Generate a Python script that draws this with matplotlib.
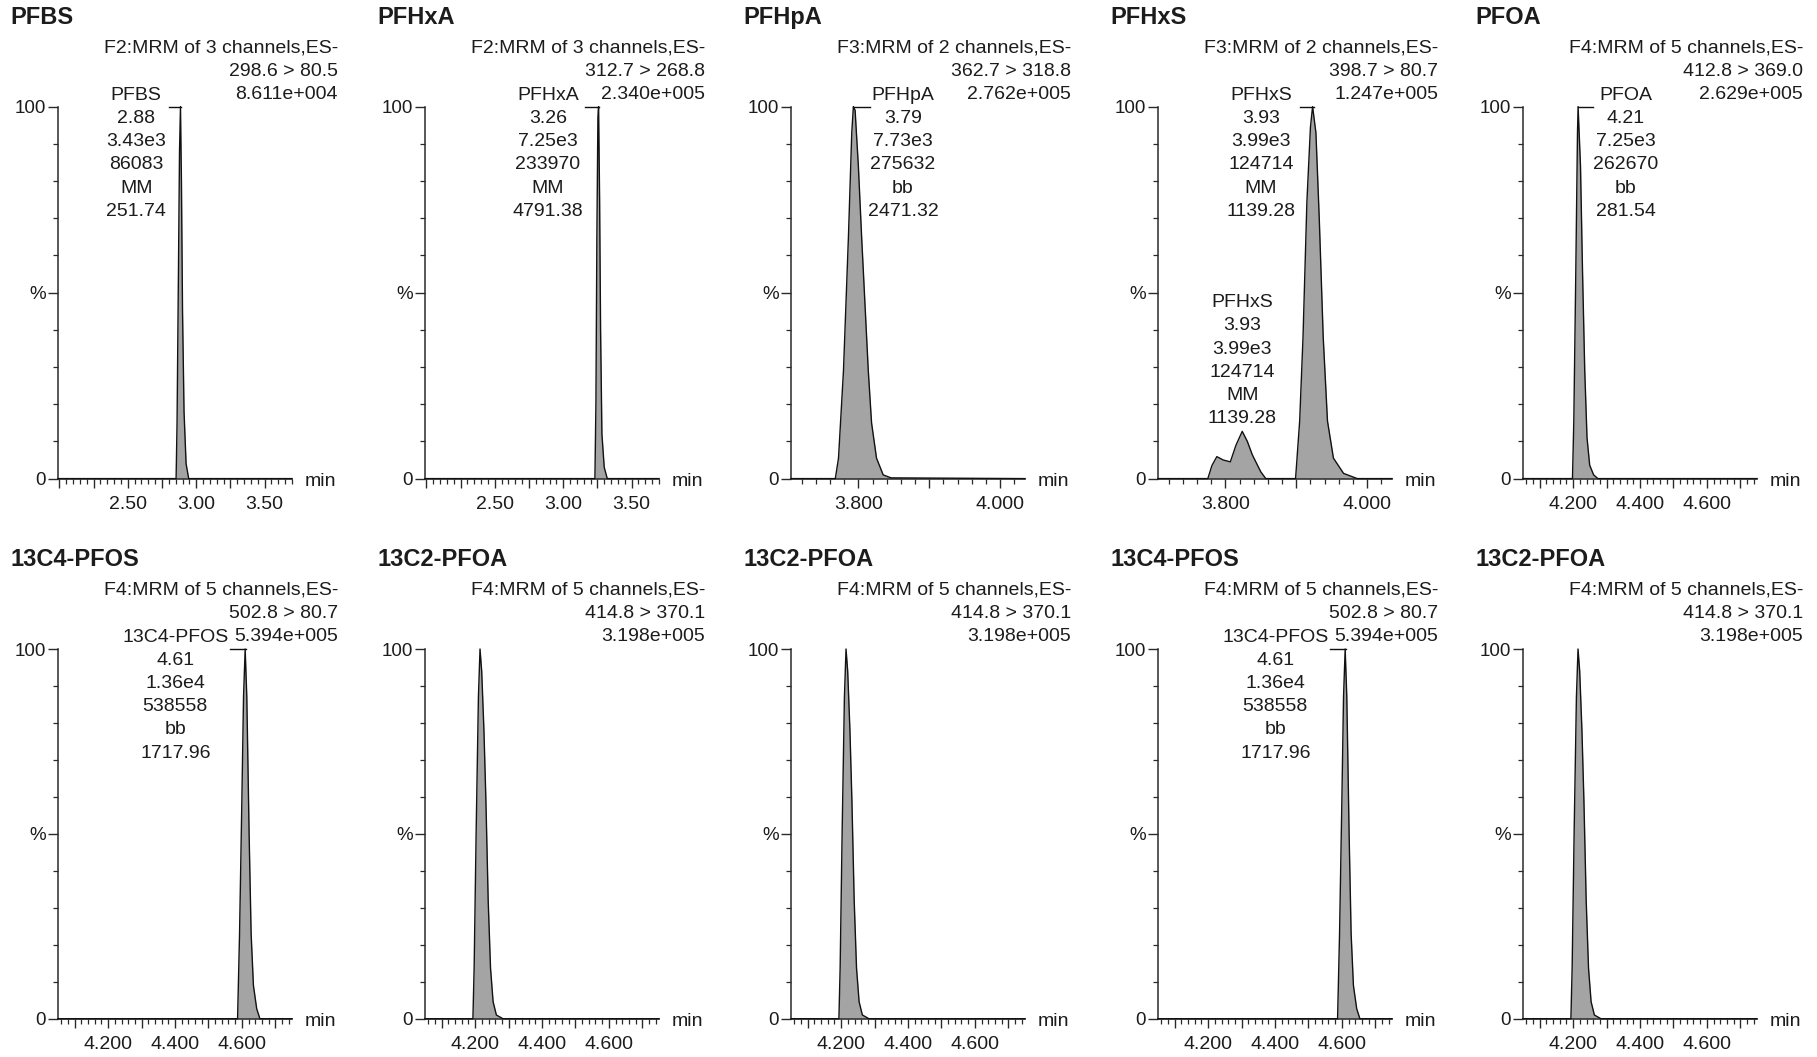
import numpy as np
import matplotlib
matplotlib.use("Agg")
import matplotlib.pyplot as plt
from matplotlib.ticker import MultipleLocator, FixedLocator, FuncFormatter

plt.rcParams['font.family'] = ['Liberation Sans', 'DejaVu Sans']

# ---------------- data (retention time in min, intensity in % of max) ----------------
pfbs_rt = [1.99, 2.853, 2.860, 2.870, 2.878, 2.885, 2.892, 2.900, 2.911, 2.926, 2.945, 3.70]
pfbs_int = [0, 0, 15, 55, 88, 100, 80, 45, 18, 4, 0, 0]

pfhxa_rt = [1.99, 3.2316, 3.239, 3.246, 3.2535, 3.2584, 3.266, 3.2731, 3.2828, 3.2998, 3.322, 3.70]
pfhxa_int = [0, 0, 20, 65, 97, 100, 75, 40, 12, 3, 0, 0]

pfhpa_rt = [3.705, 3.7675, 3.772, 3.779, 3.786, 3.7907, 3.793, 3.7954, 3.800, 3.8046,
            3.8093, 3.814, 3.8186, 3.8256, 3.835, 3.846, 4.035]
pfhpa_int = [0, 0, 5.5, 29, 65, 93, 100, 99, 84, 65, 47, 29, 15, 5.5, 1, 0.2, 0]

pfhxs_rt = [3.705, 3.7753, 3.781, 3.788, 3.797, 3.807, 3.815, 3.8238, 3.831, 3.838, 3.850,
            3.857, 3.899, 3.9048, 3.9095, 3.915, 3.920, 3.923, 3.9277, 3.9324, 3.938,
            3.944, 3.9524, 3.9667, 3.986, 4.035]
pfhxs_int = [0, 0, 3.5, 5.9, 5.0, 4.5, 9, 12.7, 10, 6.4, 1.8, 0, 0, 15.5, 38, 74.5,
             94.5, 100, 93, 70, 38, 15.5, 5.5, 1.4, 0, 0]

pfoa_rt = [4.05, 4.198, 4.202, 4.208, 4.213, 4.2148, 4.222, 4.228, 4.2347, 4.2415,
           4.2495, 4.2613, 4.274, 4.75]
pfoa_int = [0, 0, 15.5, 56, 93, 100, 84, 56, 29, 11, 3.6, 1, 0, 0]

c13_pfos_rt = [4.05, 4.5872, 4.5931, 4.600, 4.605, 4.6099, 4.6148, 4.6217, 4.6277,
               4.6346, 4.6444, 4.654, 4.75]
c13_pfos_int = [0, 0, 23, 59, 87, 100, 87, 50, 23, 9, 2.7, 0, 0]

c13_pfoa_rt = [4.05, 4.1933, 4.197, 4.2029, 4.2098, 4.2146, 4.2196, 4.2263, 4.2322,
               4.239, 4.246, 4.2537, 4.2635, 4.283, 4.75]
c13_pfoa_int = [0, 0, 13.7, 50, 87, 100, 94, 78, 59, 32, 13.7, 4.6, 1, 0, 0]

# titles and header texts
titles = ['PFBS', 'PFHxA', 'PFHpA', 'PFHxS', 'PFOA',
          '13C4-PFOS', '13C2-PFOA', '13C2-PFOA', '13C4-PFOS', '13C2-PFOA']
functions = ['F2:MRM of 3 channels,ES-', 'F2:MRM of 3 channels,ES-',
             'F3:MRM of 2 channels,ES-', 'F3:MRM of 2 channels,ES-',
             'F4:MRM of 5 channels,ES-', 'F4:MRM of 5 channels,ES-',
             'F4:MRM of 5 channels,ES-', 'F4:MRM of 5 channels,ES-',
             'F4:MRM of 5 channels,ES-', 'F4:MRM of 5 channels,ES-']
transitions = ['298.6 > 80.5', '312.7 > 268.8', '362.7 > 318.8', '398.7 > 80.7',
               '412.8 > 369.0', '502.8 > 80.7', '414.8 > 370.1', '414.8 > 370.1',
               '502.8 > 80.7', '414.8 > 370.1']
max_counts = ['8.611e+004', '2.340e+005', '2.762e+005', '1.247e+005', '2.629e+005',
              '5.394e+005', '3.198e+005', '3.198e+005', '5.394e+005', '3.198e+005']

# peak annotation blocks
pfbs_label = ['PFBS', '2.88', '3.43e3', '86083', 'MM', '251.74']
pfhxa_label = ['PFHxA', '3.26', '7.25e3', '233970', 'MM', '4791.38']
pfhpa_label = ['PFHpA', '3.79', '7.73e3', '275632', 'bb', '2471.32']
pfhxs_label = ['PFHxS', '3.93', '3.99e3', '124714', 'MM', '1139.28']
pfoa_label = ['PFOA', '4.21', '7.25e3', '262670', 'bb', '281.54']
c13_pfos_label = ['13C4-PFOS', '4.61', '1.36e4', '538558', 'bb', '1717.96']

# x axis tick labels per acquisition function
f2_tick_vals = [2.50, 3.00, 3.50]
f2_tick_labels = ['2.50', '3.00', '3.50']
f3_tick_vals = [3.80, 4.00]
f3_tick_labels = ['3.800', '4.000']
f4_tick_vals = [4.20, 4.40, 4.60]
f4_tick_labels = ['4.200', '4.400', '4.600']

# ---------------- layout ----------------
W, H = 1817, 1057
fig = plt.figure(figsize=(W / 100, H / 100), dpi=100)
fig.patch.set_facecolor('white')

col_left = [58, 425, 791, 1158, 1523]
ax_w = 234
rows = [(106.6, 478.6), (649, 1018.7)]

TXT = '#1c1c1c'
AX = '#2a2a2a'
FILL = '#a4a4a4'
FS = 14

xlims = {'F2': (1.99, 3.70), 'F3': (3.705, 4.035), 'F4': (4.05, 4.75)}
ticks = {'F2': (0.25, 0.05, f2_tick_vals, f2_tick_labels),
         'F3': (0.1, 0.02, f3_tick_vals, f3_tick_labels),
         'F4': (0.1, 0.02, f4_tick_vals, f4_tick_labels)}

traces = [(pfbs_rt, pfbs_int), (pfhxa_rt, pfhxa_int), (pfhpa_rt, pfhpa_int),
          (pfhxs_rt, pfhxs_int), (pfoa_rt, pfoa_int),
          (c13_pfos_rt, c13_pfos_int), (c13_pfoa_rt, c13_pfoa_int),
          (c13_pfoa_rt, c13_pfoa_int), (c13_pfos_rt, c13_pfos_int),
          (c13_pfoa_rt, c13_pfoa_int)]

# annotation: (lines, center x, first-line y in %, bracket (x0, x1) or None)
LINE_STEP = 6.25
TOP_Y = 103.1
annots = {
    0: [(pfbs_label, 2.561, TOP_Y, (2.80, 2.888))],
    1: [(pfhxa_label, 2.888, TOP_Y, (3.158, 3.259))],
    2: [(pfhpa_label, 3.863, TOP_Y, (3.793, 3.816))],
    3: [(pfhxs_label, 3.850, TOP_Y, (3.905, 3.925)),
        (pfhxs_label, 3.824, 47.3, None)],
    4: [(pfoa_label, 4.358, TOP_Y, (4.2148, 4.259))],
    5: [(c13_pfos_label, 4.401, TOP_Y, (4.565, 4.612))],
    8: [(c13_pfos_label, 4.401, TOP_Y, (4.565, 4.612))],
}


def fmt_factory(vals, labels):
    def f(x, pos):
        for v, l in zip(vals, labels):
            if abs(x - v) < 1e-6:
                return l
        return ''
    return FuncFormatter(f)


for i in range(10):
    r, c = divmod(i, 5)
    top_px, bot_px = rows[r]
    left = col_left[c] / W
    bottom = 1 - bot_px / H
    height = (bot_px - top_px) / H
    ax = fig.add_axes([left, bottom, ax_w / W, height])
    fkey = functions[i][:2]
    xl = xlims[fkey]
    ax.set_xlim(*xl)
    ax.set_ylim(0, 100)
    ax.patch.set_alpha(0)

    rt, inten = traces[i]
    ax.fill_between(rt, 0, inten, color=FILL, lw=0, clip_on=False, zorder=2)
    ax.plot(rt, inten, color='#111111', lw=1.0, clip_on=False, zorder=3)

    for s in ['top', 'right']:
        ax.spines[s].set_visible(False)
    for s in ['left', 'bottom']:
        ax.spines[s].set_color(AX)
        ax.spines[s].set_linewidth(1.1)

    maj, mnr, tv, tl = ticks[fkey]
    ax.xaxis.set_major_locator(MultipleLocator(maj))
    ax.xaxis.set_minor_locator(MultipleLocator(mnr))
    ax.xaxis.set_major_formatter(fmt_factory(tv, tl))
    ax.tick_params(axis='x', which='major', direction='out', length=6.5, width=1,
                   color=AX, pad=6, labelsize=FS, labelcolor=TXT)
    ax.tick_params(axis='x', which='minor', direction='out', length=3.5, width=0.9,
                   color=AX)

    ax.yaxis.set_major_locator(FixedLocator([0, 50, 100]))
    ax.yaxis.set_major_formatter(FuncFormatter(
        lambda v, p: {0: '0', 50: '%', 100: '100'}.get(int(round(v)), '')))
    ax.yaxis.set_minor_locator(MultipleLocator(10))
    ax.tick_params(axis='y', which='major', direction='out', length=7.5, width=1,
                   color=AX, pad=1, labelsize=13.5, labelcolor=TXT)
    ax.tick_params(axis='y', which='minor', direction='out', length=3.5, width=0.9,
                   color=AX)

    axh = bot_px - top_px
    # title
    ax.text(-48 / ax_w, 1 + 89 / axh, titles[i], transform=ax.transAxes,
            ha='left', va='center', fontsize=17, fontweight='bold', color=TXT)
    # header
    hx = 280 / ax_w
    for k, (txt, dy) in enumerate(zip([functions[i], transitions[i], max_counts[i]],
                                      [59, 35.5, 12.5])):
        ax.text(hx, 1 + dy / axh, txt, transform=ax.transAxes, ha='right',
                va='center', fontsize=FS, color=TXT)
    # "min"
    ax.text(1 + 13 / ax_w, -3 / axh, 'min', transform=ax.transAxes, ha='left',
            va='center', fontsize=FS, color=TXT)

    # peak annotations
    for lines, cx, y0, br in annots.get(i, []):
        for k, t in enumerate(lines):
            ax.text(cx, y0 - k * LINE_STEP, t, ha='center', va='center',
                    fontsize=FS, color=TXT, clip_on=False)
        if br is not None:
            ax.plot([br[0], br[1]], [100, 100], color='#111111', lw=1.0,
                    clip_on=False, zorder=4)

fig.savefig('out.png', dpi=100, facecolor='white')
